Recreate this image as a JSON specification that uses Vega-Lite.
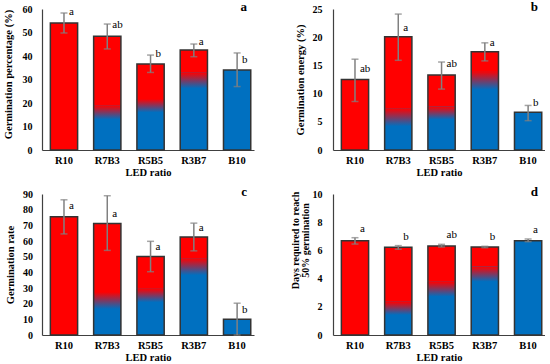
{
  "$schema": "https://vega.github.io/schema/vega-lite/v6.json",
  "padding": {"left": 2, "top": 1, "right": 0, "bottom": 0},
  "background": "white",
  "datasets": {
    "d": [
      {"p": "a", "led": "R10", "v": 54.0, "lo": 49.8, "hi": 58.3, "lt": "a", "ly": 58.6, "b1": 0, "b2": 0},
      {"p": "a", "led": "R7B3", "v": 48.4, "lo": 43.0, "hi": 53.6, "lt": "ab", "ly": 53.2, "b1": 13.0, "b2": 19.0},
      {"p": "a", "led": "R5B5", "v": 36.6, "lo": 33.0, "hi": 40.4, "lt": "b", "ly": 40.9, "b1": 16.0, "b2": 21.7},
      {"p": "a", "led": "R3B7", "v": 42.6, "lo": 39.7, "hi": 45.1, "lt": "a", "ly": 46.1, "b1": 26.2, "b2": 33.0},
      {"p": "a", "led": "B10", "v": 34.0, "lo": 27.0, "hi": 41.3, "lt": "b", "ly": 38.1, "b1": 34.0, "b2": 34.0},
      {"p": "b", "led": "R10", "v": 12.5, "lo": 8.6, "hi": 16.1, "lt": "ab", "ly": 14.3, "b1": 0, "b2": 0},
      {"p": "b", "led": "R7B3", "v": 20.1, "lo": 15.9, "hi": 24.1, "lt": "a", "ly": 21.7, "b1": 4.2, "b2": 7.4},
      {"p": "b", "led": "R5B5", "v": 13.3, "lo": 10.8, "hi": 15.6, "lt": "ab", "ly": 15.2, "b1": 5.4, "b2": 7.7},
      {"p": "b", "led": "R3B7", "v": 17.4, "lo": 15.8, "hi": 19.0, "lt": "a", "ly": 19.0, "b1": 10.7, "b2": 14.0},
      {"p": "b", "led": "B10", "v": 6.7, "lo": 5.2, "hi": 7.9, "lt": "b", "ly": 8.3, "b1": 6.7, "b2": 6.7},
      {"p": "c", "led": "R10", "v": 75.5, "lo": 64.5, "hi": 86.3, "lt": "a", "ly": 82.4, "b1": 0, "b2": 0},
      {"p": "c", "led": "R7B3", "v": 71.2, "lo": 54.0, "hi": 88.9, "lt": "a", "ly": 77.5, "b1": 16.6, "b2": 27.4},
      {"p": "c", "led": "R5B5", "v": 50.1, "lo": 40.4, "hi": 59.8, "lt": "a", "ly": 56.1, "b1": 20.9, "b2": 29.6},
      {"p": "c", "led": "R3B7", "v": 62.6, "lo": 53.7, "hi": 71.4, "lt": "a", "ly": 68.4, "b1": 38.2, "b2": 49.0},
      {"p": "c", "led": "B10", "v": 10.1, "lo": 0, "hi": 20.3, "lt": "b", "ly": 16.0, "b1": 10.1, "b2": 10.1},
      {"p": "d", "led": "R10", "v": 6.69, "lo": 6.45, "hi": 6.9, "lt": "a", "ly": 7.49, "b1": 0, "b2": 0},
      {"p": "d", "led": "R7B3", "v": 6.22, "lo": 6.08, "hi": 6.34, "lt": "b", "ly": 6.93, "b1": 1.42, "b2": 2.36},
      {"p": "d", "led": "R5B5", "v": 6.31, "lo": 6.24, "hi": 6.43, "lt": "ab", "ly": 7.09, "b1": 2.72, "b2": 3.78},
      {"p": "d", "led": "R3B7", "v": 6.24, "lo": 6.19, "hi": 6.29, "lt": "b", "ly": 6.93, "b1": 3.78, "b2": 4.85},
      {"p": "d", "led": "B10", "v": 6.69, "lo": 6.62, "hi": 6.81, "lt": "a", "ly": 7.45, "b1": 6.69, "b2": 6.69}
    ]
  },
  "config": {
    "view": {"stroke": null},
    "font": "Liberation Serif",
    "axis": {
      "labelFont": "Liberation Serif", "titleFont": "Liberation Serif",
      "labelFontWeight": "bold", "titleFontWeight": "bold",
      "labelFontSize": 10, "titleFontSize": 10.5,
      "labelColor": "#000000", "titleColor": "#000000",
      "domainColor": "#404040", "domainWidth": 1.2,
      "ticks": false, "grid": false, "labelOverlap": false, "labelSeparation": 0
    },
    "axisY": {"labelOverlap": false},
    "axisQuantitative": {"labelOverlap": false},
    "axisX": {"labelAngle": 0, "labelPadding": 5, "titlePadding": 2, "labelFontSize": 10.5},
    "title": {"font": "Liberation Serif", "fontWeight": "bold", "fontSize": 13, "anchor": "end", "frame": "group", "baseline": "alphabetic", "offset": -10, "dx": -7, "color": "#000000"}
  },
  "columns": 2,
  "spacing": {"column": 36, "row": 8},
  "concat": [
    {
      "width": 212, "height": 141,
      "data": {"name": "d"},
      "transform": [{"filter": "datum.p === 'a'"}],
      "title": {"text": "a"},
      "encoding": {"x": {"field": "led", "type": "nominal", "sort": ["R10", "R7B3", "R5B5", "R3B7", "B10"], "scale": {"paddingInner": 0.37, "paddingOuter": 0.134, "align": 0.72}, "title": "LED ratio"}},
      "layer": [
        {"mark": {"type": "bar", "color": "#FF0000"}, "encoding": {"y": {"field": "v", "type": "quantitative", "scale": {"domain": [0, 60], "nice": false}, "title": "Germination percentage (%)", "axis": {"values": [0, 10, 20, 30, 40, 50, 60], "labelOverlap": false, "labelPadding": 10, "minExtent": 21, "maxExtent": 21, "titlePadding": 8, "titleY": 65}}}},
        {"mark": {"type": "bar", "color": "#0070C0"}, "encoding": {"y": {"field": "b2", "type": "quantitative", "scale": {"domain": [0, 60], "nice": false}, "title": "Germination percentage (%)", "axis": {"values": [0, 10, 20, 30, 40, 50, 60], "labelOverlap": false, "labelPadding": 10, "minExtent": 21, "maxExtent": 21, "titlePadding": 8, "titleY": 65}}}},
        {"mark": {"type": "bar", "color": {"gradient": "linear", "x1": 0, "y1": 1, "x2": 0, "y2": 0, "stops": [{"offset": 0, "color": "#0070C0"}, {"offset": 1, "color": "#FF0000"}]}}, "encoding": {"y": {"field": "b1", "type": "quantitative", "scale": {"domain": [0, 60], "nice": false}, "title": "Germination percentage (%)", "axis": {"values": [0, 10, 20, 30, 40, 50, 60], "labelOverlap": false, "labelPadding": 10, "minExtent": 21, "maxExtent": 21, "titlePadding": 8, "titleY": 65}}, "y2": {"field": "b2"}}},
        {"mark": {"type": "bar", "filled": false, "color": "#333333", "strokeWidth": 1.5}, "encoding": {"y": {"field": "v", "type": "quantitative", "scale": {"domain": [0, 60], "nice": false}, "title": "Germination percentage (%)", "axis": {"values": [0, 10, 20, 30, 40, 50, 60], "labelOverlap": false, "labelPadding": 10, "minExtent": 21, "maxExtent": 21, "titlePadding": 8, "titleY": 65}}}},
        {"mark": {"type": "rule", "color": "#808080", "strokeWidth": 1.5}, "encoding": {"y": {"field": "lo", "type": "quantitative", "scale": {"domain": [0, 60], "nice": false}, "title": "Germination percentage (%)", "axis": {"values": [0, 10, 20, 30, 40, 50, 60], "labelOverlap": false, "labelPadding": 10, "minExtent": 21, "maxExtent": 21, "titlePadding": 8, "titleY": 65}}, "y2": {"field": "hi"}}},
        {"mark": {"type": "tick", "color": "#808080", "thickness": 1.5, "size": 7}, "encoding": {"y": {"field": "hi", "type": "quantitative", "scale": {"domain": [0, 60], "nice": false}, "title": "Germination percentage (%)", "axis": {"values": [0, 10, 20, 30, 40, 50, 60], "labelOverlap": false, "labelPadding": 10, "minExtent": 21, "maxExtent": 21, "titlePadding": 8, "titleY": 65}}}},
        {"mark": {"type": "tick", "color": "#808080", "thickness": 1.5, "size": 7}, "encoding": {"y": {"field": "lo", "type": "quantitative", "scale": {"domain": [0, 60], "nice": false}, "title": "Germination percentage (%)", "axis": {"values": [0, 10, 20, 30, 40, 50, 60], "labelOverlap": false, "labelPadding": 10, "minExtent": 21, "maxExtent": 21, "titlePadding": 8, "titleY": 65}}}},
        {"mark": {"type": "text", "align": "left", "baseline": "middle", "dx": 5, "font": "Liberation Serif", "fontSize": 11, "color": "#000000"}, "encoding": {"y": {"field": "ly", "type": "quantitative", "scale": {"domain": [0, 60], "nice": false}, "title": "Germination percentage (%)", "axis": {"values": [0, 10, 20, 30, 40, 50, 60], "labelOverlap": false, "labelPadding": 10, "minExtent": 21, "maxExtent": 21, "titlePadding": 8, "titleY": 65}}, "text": {"field": "lt"}}}
      ]
    },
    {
      "width": 212, "height": 141,
      "data": {"name": "d"},
      "transform": [{"filter": "datum.p === 'b'"}],
      "title": {"text": "b"},
      "encoding": {"x": {"field": "led", "type": "nominal", "sort": ["R10", "R7B3", "R5B5", "R3B7", "B10"], "scale": {"paddingInner": 0.37, "paddingOuter": 0.134, "align": 0.72}, "title": "LED ratio"}},
      "layer": [
        {"mark": {"type": "bar", "color": "#FF0000"}, "encoding": {"y": {"field": "v", "type": "quantitative", "scale": {"domain": [0, 25], "nice": false}, "title": "Germination energy (%)", "axis": {"values": [0, 5, 10, 15, 20, 25], "labelOverlap": false, "labelPadding": 11, "minExtent": 21, "maxExtent": 21, "titlePadding": 6.5}}}},
        {"mark": {"type": "bar", "color": "#0070C0"}, "encoding": {"y": {"field": "b2", "type": "quantitative", "scale": {"domain": [0, 25], "nice": false}, "title": "Germination energy (%)", "axis": {"values": [0, 5, 10, 15, 20, 25], "labelOverlap": false, "labelPadding": 11, "minExtent": 21, "maxExtent": 21, "titlePadding": 6.5}}}},
        {"mark": {"type": "bar", "color": {"gradient": "linear", "x1": 0, "y1": 1, "x2": 0, "y2": 0, "stops": [{"offset": 0, "color": "#0070C0"}, {"offset": 1, "color": "#FF0000"}]}}, "encoding": {"y": {"field": "b1", "type": "quantitative", "scale": {"domain": [0, 25], "nice": false}, "title": "Germination energy (%)", "axis": {"values": [0, 5, 10, 15, 20, 25], "labelOverlap": false, "labelPadding": 11, "minExtent": 21, "maxExtent": 21, "titlePadding": 6.5}}, "y2": {"field": "b2"}}},
        {"mark": {"type": "bar", "filled": false, "color": "#333333", "strokeWidth": 1.5}, "encoding": {"y": {"field": "v", "type": "quantitative", "scale": {"domain": [0, 25], "nice": false}, "title": "Germination energy (%)", "axis": {"values": [0, 5, 10, 15, 20, 25], "labelOverlap": false, "labelPadding": 11, "minExtent": 21, "maxExtent": 21, "titlePadding": 6.5}}}},
        {"mark": {"type": "rule", "color": "#808080", "strokeWidth": 1.5}, "encoding": {"y": {"field": "lo", "type": "quantitative", "scale": {"domain": [0, 25], "nice": false}, "title": "Germination energy (%)", "axis": {"values": [0, 5, 10, 15, 20, 25], "labelOverlap": false, "labelPadding": 11, "minExtent": 21, "maxExtent": 21, "titlePadding": 6.5}}, "y2": {"field": "hi"}}},
        {"mark": {"type": "tick", "color": "#808080", "thickness": 1.5, "size": 7}, "encoding": {"y": {"field": "hi", "type": "quantitative", "scale": {"domain": [0, 25], "nice": false}, "title": "Germination energy (%)", "axis": {"values": [0, 5, 10, 15, 20, 25], "labelOverlap": false, "labelPadding": 11, "minExtent": 21, "maxExtent": 21, "titlePadding": 6.5}}}},
        {"mark": {"type": "tick", "color": "#808080", "thickness": 1.5, "size": 7}, "encoding": {"y": {"field": "lo", "type": "quantitative", "scale": {"domain": [0, 25], "nice": false}, "title": "Germination energy (%)", "axis": {"values": [0, 5, 10, 15, 20, 25], "labelOverlap": false, "labelPadding": 11, "minExtent": 21, "maxExtent": 21, "titlePadding": 6.5}}}},
        {"mark": {"type": "text", "align": "left", "baseline": "middle", "dx": 5, "font": "Liberation Serif", "fontSize": 11, "color": "#000000"}, "encoding": {"y": {"field": "ly", "type": "quantitative", "scale": {"domain": [0, 25], "nice": false}, "title": "Germination energy (%)", "axis": {"values": [0, 5, 10, 15, 20, 25], "labelOverlap": false, "labelPadding": 11, "minExtent": 21, "maxExtent": 21, "titlePadding": 6.5}}, "text": {"field": "lt"}}}
      ]
    },
    {
      "width": 212, "height": 141,
      "data": {"name": "d"},
      "transform": [{"filter": "datum.p === 'c'"}],
      "title": {"text": "c"},
      "encoding": {"x": {"field": "led", "type": "nominal", "sort": ["R10", "R7B3", "R5B5", "R3B7", "B10"], "scale": {"paddingInner": 0.37, "paddingOuter": 0.134, "align": 0.72}, "title": "LED ratio"}},
      "layer": [
        {"mark": {"type": "bar", "color": "#FF0000"}, "encoding": {"y": {"field": "v", "type": "quantitative", "scale": {"domain": [0, 90], "nice": false}, "title": "Germination rate", "axis": {"values": [0, 10, 20, 30, 40, 50, 60, 70, 80, 90], "labelOverlap": false, "labelPadding": 9.5, "minExtent": 20, "maxExtent": 20, "titlePadding": 6.5}}}},
        {"mark": {"type": "bar", "color": "#0070C0"}, "encoding": {"y": {"field": "b2", "type": "quantitative", "scale": {"domain": [0, 90], "nice": false}, "title": "Germination rate", "axis": {"values": [0, 10, 20, 30, 40, 50, 60, 70, 80, 90], "labelOverlap": false, "labelPadding": 9.5, "minExtent": 20, "maxExtent": 20, "titlePadding": 6.5}}}},
        {"mark": {"type": "bar", "color": {"gradient": "linear", "x1": 0, "y1": 1, "x2": 0, "y2": 0, "stops": [{"offset": 0, "color": "#0070C0"}, {"offset": 1, "color": "#FF0000"}]}}, "encoding": {"y": {"field": "b1", "type": "quantitative", "scale": {"domain": [0, 90], "nice": false}, "title": "Germination rate", "axis": {"values": [0, 10, 20, 30, 40, 50, 60, 70, 80, 90], "labelOverlap": false, "labelPadding": 9.5, "minExtent": 20, "maxExtent": 20, "titlePadding": 6.5}}, "y2": {"field": "b2"}}},
        {"mark": {"type": "bar", "filled": false, "color": "#333333", "strokeWidth": 1.5}, "encoding": {"y": {"field": "v", "type": "quantitative", "scale": {"domain": [0, 90], "nice": false}, "title": "Germination rate", "axis": {"values": [0, 10, 20, 30, 40, 50, 60, 70, 80, 90], "labelOverlap": false, "labelPadding": 9.5, "minExtent": 20, "maxExtent": 20, "titlePadding": 6.5}}}},
        {"mark": {"type": "rule", "color": "#808080", "strokeWidth": 1.5}, "encoding": {"y": {"field": "lo", "type": "quantitative", "scale": {"domain": [0, 90], "nice": false}, "title": "Germination rate", "axis": {"values": [0, 10, 20, 30, 40, 50, 60, 70, 80, 90], "labelOverlap": false, "labelPadding": 9.5, "minExtent": 20, "maxExtent": 20, "titlePadding": 6.5}}, "y2": {"field": "hi"}}},
        {"mark": {"type": "tick", "color": "#808080", "thickness": 1.5, "size": 7}, "encoding": {"y": {"field": "hi", "type": "quantitative", "scale": {"domain": [0, 90], "nice": false}, "title": "Germination rate", "axis": {"values": [0, 10, 20, 30, 40, 50, 60, 70, 80, 90], "labelOverlap": false, "labelPadding": 9.5, "minExtent": 20, "maxExtent": 20, "titlePadding": 6.5}}}},
        {"mark": {"type": "tick", "color": "#808080", "thickness": 1.5, "size": 7}, "encoding": {"y": {"field": "lo", "type": "quantitative", "scale": {"domain": [0, 90], "nice": false}, "title": "Germination rate", "axis": {"values": [0, 10, 20, 30, 40, 50, 60, 70, 80, 90], "labelOverlap": false, "labelPadding": 9.5, "minExtent": 20, "maxExtent": 20, "titlePadding": 6.5}}}},
        {"mark": {"type": "text", "align": "left", "baseline": "middle", "dx": 5, "font": "Liberation Serif", "fontSize": 11, "color": "#000000"}, "encoding": {"y": {"field": "ly", "type": "quantitative", "scale": {"domain": [0, 90], "nice": false}, "title": "Germination rate", "axis": {"values": [0, 10, 20, 30, 40, 50, 60, 70, 80, 90], "labelOverlap": false, "labelPadding": 9.5, "minExtent": 20, "maxExtent": 20, "titlePadding": 6.5}}, "text": {"field": "lt"}}}
      ]
    },
    {
      "width": 212, "height": 141,
      "data": {"name": "d"},
      "transform": [{"filter": "datum.p === 'd'"}],
      "title": {"text": "d"},
      "encoding": {"x": {"field": "led", "type": "nominal", "sort": ["R10", "R7B3", "R5B5", "R3B7", "B10"], "scale": {"paddingInner": 0.37, "paddingOuter": 0.134, "align": 0.72}, "title": "LED ratio"}},
      "layer": [
        {"mark": {"type": "bar", "color": "#FF0000"}, "encoding": {"y": {"field": "v", "type": "quantitative", "scale": {"domain": [0, 10], "nice": false}, "title": ["Days required to reach", "50% germination"], "axis": {"values": [0, 2, 4, 6, 8, 10], "labelOverlap": false, "labelPadding": 11, "minExtent": 13, "maxExtent": 13, "titlePadding": 10, "titleFontSize": 10, "titleLineHeight": 9.5, "titleY": 46}}}},
        {"mark": {"type": "bar", "color": "#0070C0"}, "encoding": {"y": {"field": "b2", "type": "quantitative", "scale": {"domain": [0, 10], "nice": false}, "title": ["Days required to reach", "50% germination"], "axis": {"values": [0, 2, 4, 6, 8, 10], "labelOverlap": false, "labelPadding": 11, "minExtent": 13, "maxExtent": 13, "titlePadding": 10, "titleFontSize": 10, "titleLineHeight": 9.5, "titleY": 46}}}},
        {"mark": {"type": "bar", "color": {"gradient": "linear", "x1": 0, "y1": 1, "x2": 0, "y2": 0, "stops": [{"offset": 0, "color": "#0070C0"}, {"offset": 1, "color": "#FF0000"}]}}, "encoding": {"y": {"field": "b1", "type": "quantitative", "scale": {"domain": [0, 10], "nice": false}, "title": ["Days required to reach", "50% germination"], "axis": {"values": [0, 2, 4, 6, 8, 10], "labelOverlap": false, "labelPadding": 11, "minExtent": 13, "maxExtent": 13, "titlePadding": 10, "titleFontSize": 10, "titleLineHeight": 9.5, "titleY": 46}}, "y2": {"field": "b2"}}},
        {"mark": {"type": "bar", "filled": false, "color": "#333333", "strokeWidth": 1.5}, "encoding": {"y": {"field": "v", "type": "quantitative", "scale": {"domain": [0, 10], "nice": false}, "title": ["Days required to reach", "50% germination"], "axis": {"values": [0, 2, 4, 6, 8, 10], "labelOverlap": false, "labelPadding": 11, "minExtent": 13, "maxExtent": 13, "titlePadding": 10, "titleFontSize": 10, "titleLineHeight": 9.5, "titleY": 46}}}},
        {"mark": {"type": "rule", "color": "#808080", "strokeWidth": 1.5}, "encoding": {"y": {"field": "lo", "type": "quantitative", "scale": {"domain": [0, 10], "nice": false}, "title": ["Days required to reach", "50% germination"], "axis": {"values": [0, 2, 4, 6, 8, 10], "labelOverlap": false, "labelPadding": 11, "minExtent": 13, "maxExtent": 13, "titlePadding": 10, "titleFontSize": 10, "titleLineHeight": 9.5, "titleY": 46}}, "y2": {"field": "hi"}}},
        {"mark": {"type": "tick", "color": "#808080", "thickness": 1.5, "size": 7}, "encoding": {"y": {"field": "hi", "type": "quantitative", "scale": {"domain": [0, 10], "nice": false}, "title": ["Days required to reach", "50% germination"], "axis": {"values": [0, 2, 4, 6, 8, 10], "labelOverlap": false, "labelPadding": 11, "minExtent": 13, "maxExtent": 13, "titlePadding": 10, "titleFontSize": 10, "titleLineHeight": 9.5, "titleY": 46}}}},
        {"mark": {"type": "tick", "color": "#808080", "thickness": 1.5, "size": 7}, "encoding": {"y": {"field": "lo", "type": "quantitative", "scale": {"domain": [0, 10], "nice": false}, "title": ["Days required to reach", "50% germination"], "axis": {"values": [0, 2, 4, 6, 8, 10], "labelOverlap": false, "labelPadding": 11, "minExtent": 13, "maxExtent": 13, "titlePadding": 10, "titleFontSize": 10, "titleLineHeight": 9.5, "titleY": 46}}}},
        {"mark": {"type": "text", "align": "left", "baseline": "middle", "dx": 5, "font": "Liberation Serif", "fontSize": 11, "color": "#000000"}, "encoding": {"y": {"field": "ly", "type": "quantitative", "scale": {"domain": [0, 10], "nice": false}, "title": ["Days required to reach", "50% germination"], "axis": {"values": [0, 2, 4, 6, 8, 10], "labelOverlap": false, "labelPadding": 11, "minExtent": 13, "maxExtent": 13, "titlePadding": 10, "titleFontSize": 10, "titleLineHeight": 9.5, "titleY": 46}}, "text": {"field": "lt"}}}
      ]
    }
  ]
}
